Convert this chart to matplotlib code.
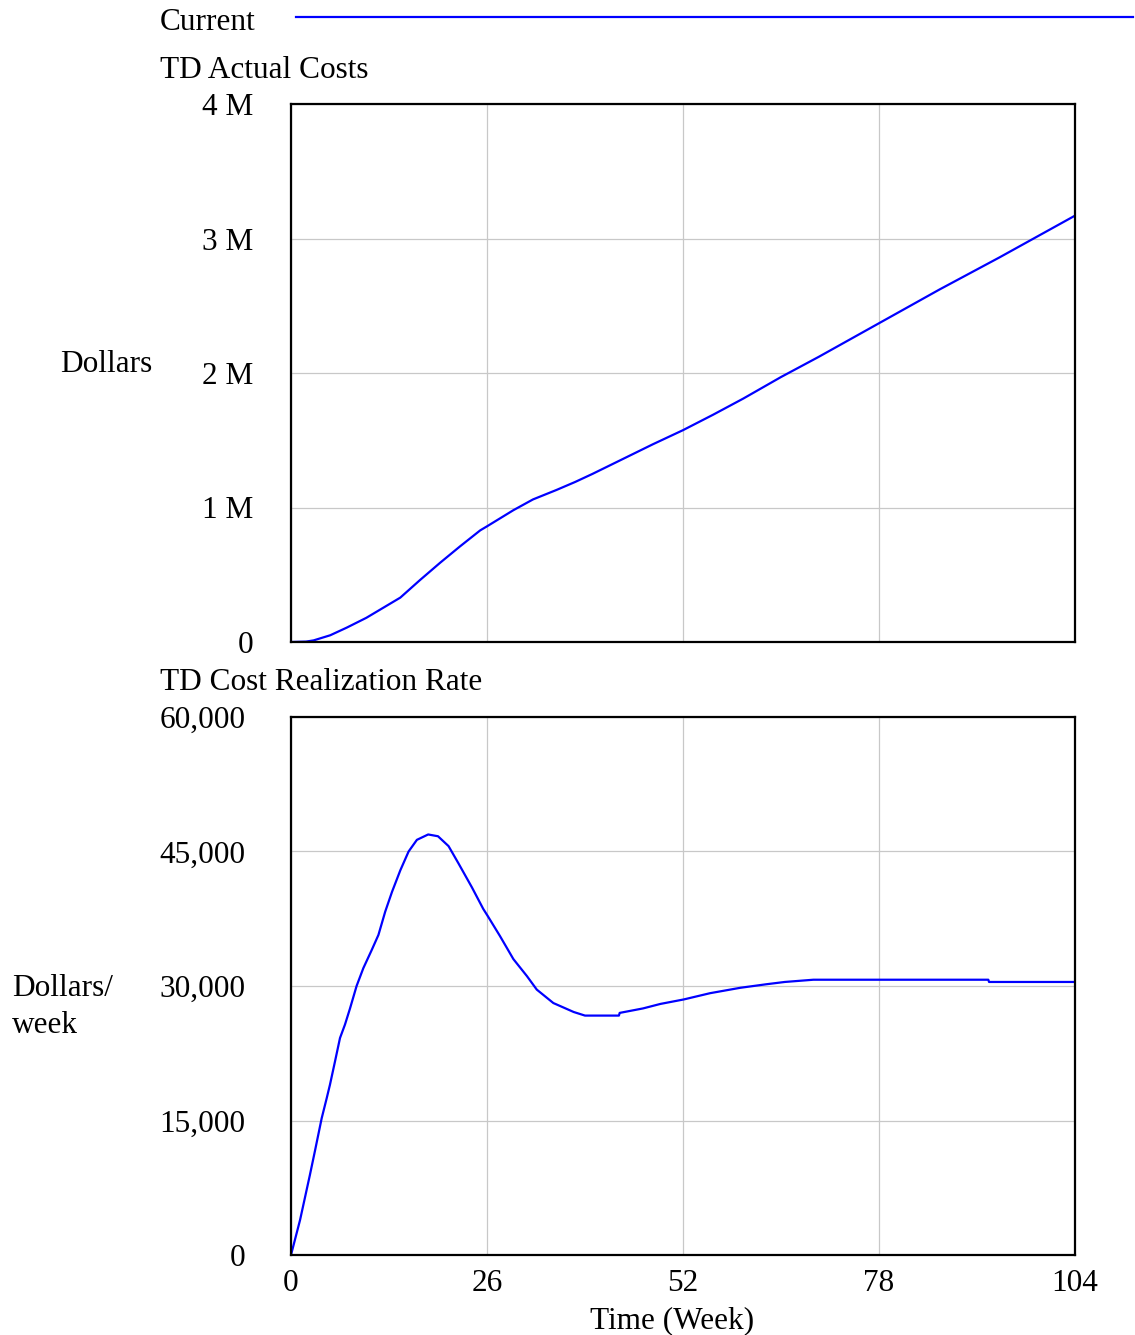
import matplotlib
matplotlib.use("Agg")
import matplotlib.pyplot as plt

plt.rcParams['font.family'] = ['Liberation Serif', 'DejaVu Serif']

# Cumulative actual costs (Dollars)
t_cost = [0, 2, 3, 5.2, 7.4, 10, 11.8, 14.5, 17.1, 19.8, 22.4, 25.1, 26, 29.5, 32.1,
          35.2, 37.7, 40, 44, 48, 52, 56, 60, 65, 70, 78, 86, 94, 104]
cost = [0, 0.003e6, 0.012e6, 0.05e6, 0.107e6, 0.18e6, 0.24e6, 0.33e6, 0.46e6, 0.59e6,
        0.71e6, 0.83e6, 0.86e6, 0.98e6, 1.06e6, 1.13e6, 1.19e6, 1.25e6, 1.36e6,
        1.47e6, 1.575e6, 1.69e6, 1.81e6, 1.97e6, 2.12e6, 2.37e6, 2.62e6, 2.86e6, 3.17e6]

# Cost realization rate (Dollars/week)
t_rate = [0, 1.2, 2.5, 3.2, 4.07, 4.74, 5.17, 5.84, 6.5, 7.16, 7.83, 8.7, 9.6, 10.7,
          11.6, 12.5, 13.4, 14.5, 15.6, 16.7, 18.2, 19.5, 20.9, 22.2, 24.0, 25.5, 26.1,
          27.7, 29.5, 31.3, 32.6, 34.8, 37.5, 39.0, 43.5, 43.6, 46.7, 49.0, 52.1, 55.6,
          59.6, 63.1, 65.5, 69.3, 92.5, 92.6, 104]
rate = [0, 3900, 8900, 11700, 15250, 17500, 19000, 21600, 24200, 25700, 27500, 30000,
        32000, 34000, 35700, 38300, 40500, 42900, 45000, 46300, 46900, 46700, 45600,
        43700, 41000, 38600, 37800, 35600, 33000, 31100, 29600, 28100, 27100, 26700,
        26700, 27000, 27500, 28000, 28500, 29200, 29800, 30200, 30450, 30700, 30700,
        30450, 30450]

x_ticks = [0, 26, 52, 78, 104]
cost_ticks = [0, 1e6, 2e6, 3e6, 4e6]
cost_labels = ['0', '1 M', '2 M', '3 M', '4 M']
rate_ticks = [0, 15000, 30000, 45000, 60000]
rate_labels = ['0', '15,000', '30,000', '45,000', '60,000']

W, H = 1135, 1335
fig = plt.figure(figsize=(W / 100, H / 100), dpi=100)
FS = 22.5
blue = (0, 0, 1)

def px(x, y):
    return x / W, 1 - y / H

ax1 = fig.add_axes([291 / W, 1 - 642 / H, 784 / W, 538 / H])
ax2 = fig.add_axes([291 / W, 1 - 1255 / H, 784 / W, 538 / H])

for ax in (ax1, ax2):
    ax.set_xlim(0, 104)
    ax.set_xticks(x_ticks)
    ax.grid(True, color='#c8c8c8', linewidth=0.9)
    ax.set_axisbelow(True)
    for s in ax.spines.values():
        s.set_linewidth(1.6)
        s.set_color('black')
    ax.tick_params(length=0, labelsize=FS)

ax1.plot(t_cost, cost, color=blue, linewidth=1.6)
ax1.set_ylim(0, 4e6)
ax1.set_yticks(cost_ticks)
ax1.set_yticklabels(cost_labels)
ax1.tick_params(axis='y', pad=27)
ax1.tick_params(axis='x', labelbottom=False)

ax2.plot(t_rate, rate, color=blue, linewidth=1.6)
ax2.set_ylim(0, 60000)
ax2.set_yticks(rate_ticks)
ax2.set_yticklabels(rate_labels)
ax2.tick_params(axis='y', pad=33)
ax2.tick_params(axis='x', pad=10)

# Legend
fig.text(*px(160, 22), 'Current', fontsize=FS, ha='left', va='center')
fig.add_artist(plt.Line2D([296 / W, 1133 / W], [1 - 17 / H, 1 - 17 / H],
                          color=blue, linewidth=1.6, transform=fig.transFigure))

fig.text(*px(160, 70), 'TD Actual Costs', fontsize=FS, ha='left', va='center')
fig.text(*px(160, 682), 'TD Cost Realization Rate', fontsize=FS, ha='left', va='center')
fig.text(*px(60, 364), 'Dollars', fontsize=FS, ha='left', va='center')
fig.text(*px(12, 1007), 'Dollars/\nweek', fontsize=FS, ha='left', va='center',
         linespacing=1.38)
fig.text(*px(672, 1321), 'Time (Week)', fontsize=FS, ha='center', va='center')

fig.savefig('out.png', dpi=100)
